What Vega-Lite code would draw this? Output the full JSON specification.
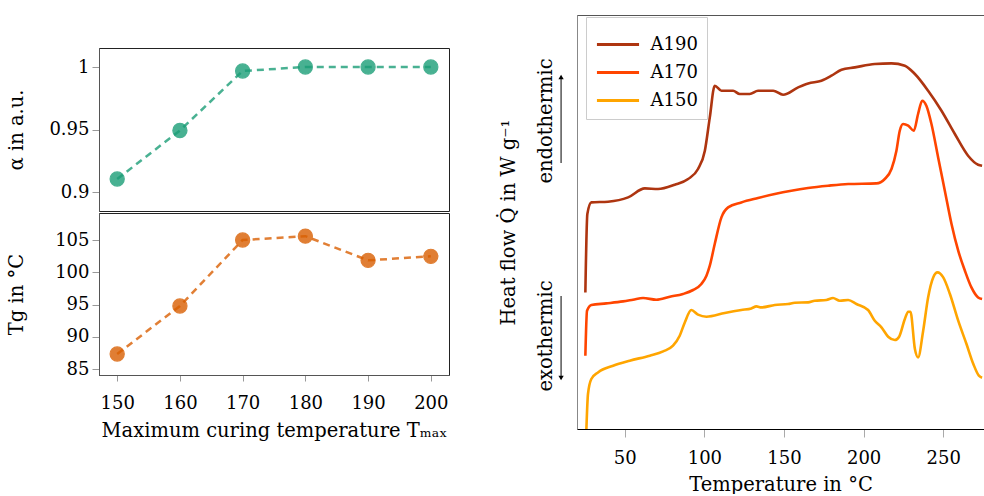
{
  "$schema": "https://vega.github.io/schema/vega-lite/v6.json",
  "padding": {"left": 5, "top": 14, "right": 0, "bottom": 0},
  "config": {
    "font": "DejaVu Serif",
    "view": {"stroke": "#222"},
    "axis": {"labelFont": "DejaVu Serif", "titleFont": "DejaVu Serif", "labelFontSize": 18, "titleFontSize": 19.5, "titleFontWeight": "normal", "labelColor": "#000", "titleColor": "#000", "grid": false, "tickColor": "#999", "domainColor": "#555"}
  },
  "datasets": {
    "cure": [
      {"Tmax": 150, "alpha": 0.9104, "Tg": 87.33},
      {"Tmax": 160, "alpha": 0.9492, "Tg": 94.77},
      {"Tmax": 170, "alpha": 0.9968, "Tg": 105.0},
      {"Tmax": 180, "alpha": 1.0, "Tg": 105.6},
      {"Tmax": 190, "alpha": 1.0, "Tg": 101.85},
      {"Tmax": 200, "alpha": 1.0, "Tg": 102.47}
    ],
    "dsc": [
      {"sample": "A190", "T": 25.25, "Q": 136.6}, {"sample": "A190", "T": 26.5, "Q": 215}, {"sample": "A190", "T": 29.0, "Q": 226.6}, {"sample": "A190", "T": 39.5, "Q": 227.3}, {"sample": "A190", "T": 52.1, "Q": 231.6}, {"sample": "A190", "T": 62.6, "Q": 240.6}, {"sample": "A190", "T": 70.9, "Q": 240}, {"sample": "A190", "T": 81.4, "Q": 244.3}, {"sample": "A190", "T": 89.8, "Q": 250}, {"sample": "A190", "T": 96.0, "Q": 260}, {"sample": "A190", "T": 100.3, "Q": 278.3}, {"sample": "A190", "T": 103.4, "Q": 311.6}, {"sample": "A190", "T": 106.5, "Q": 343.3}, {"sample": "A190", "T": 110.7, "Q": 338.3}, {"sample": "A190", "T": 118.0, "Q": 338.3}, {"sample": "A190", "T": 122.2, "Q": 335}, {"sample": "A190", "T": 128.5, "Q": 335}, {"sample": "A190", "T": 133.7, "Q": 338.3}, {"sample": "A190", "T": 143.2, "Q": 338.3}, {"sample": "A190", "T": 149.4, "Q": 334.3}, {"sample": "A190", "T": 158.9, "Q": 341.6}, {"sample": "A190", "T": 165.2, "Q": 345.6}, {"sample": "A190", "T": 173.5, "Q": 348.3}, {"sample": "A190", "T": 179.8, "Q": 353.3}, {"sample": "A190", "T": 186.1, "Q": 359.3}, {"sample": "A190", "T": 194.5, "Q": 361.6}, {"sample": "A190", "T": 207.0, "Q": 365}, {"sample": "A190", "T": 217.5, "Q": 365.6}, {"sample": "A190", "T": 225.9, "Q": 363.3}, {"sample": "A190", "T": 232.2, "Q": 355}, {"sample": "A190", "T": 240.5, "Q": 338.3}, {"sample": "A190", "T": 248.9, "Q": 318.3}, {"sample": "A190", "T": 257.3, "Q": 295}, {"sample": "A190", "T": 265.6, "Q": 273.3}, {"sample": "A190", "T": 271.9, "Q": 264.3}, {"sample": "A190", "T": 274.4, "Q": 263.3},
      {"sample": "A170", "T": 25.25, "Q": 73.3}, {"sample": "A170", "T": 26.3, "Q": 118.3}, {"sample": "A170", "T": 29.0, "Q": 124}, {"sample": "A170", "T": 38.4, "Q": 125.6}, {"sample": "A170", "T": 48.9, "Q": 127.6}, {"sample": "A170", "T": 55.2, "Q": 129.3}, {"sample": "A170", "T": 61.5, "Q": 131}, {"sample": "A170", "T": 69.8, "Q": 129.3}, {"sample": "A170", "T": 78.3, "Q": 132.3}, {"sample": "A170", "T": 86.6, "Q": 135}, {"sample": "A170", "T": 92.9, "Q": 139}, {"sample": "A170", "T": 98.1, "Q": 145}, {"sample": "A170", "T": 101.3, "Q": 153.3}, {"sample": "A170", "T": 103.4, "Q": 163.3}, {"sample": "A170", "T": 106.5, "Q": 185}, {"sample": "A170", "T": 110.7, "Q": 211.6}, {"sample": "A170", "T": 114.9, "Q": 221.6}, {"sample": "A170", "T": 123.2, "Q": 226.6}, {"sample": "A170", "T": 133.7, "Q": 231}, {"sample": "A170", "T": 144.2, "Q": 235}, {"sample": "A170", "T": 154.6, "Q": 238.3}, {"sample": "A170", "T": 165.1, "Q": 241}, {"sample": "A170", "T": 177.7, "Q": 243.3}, {"sample": "A170", "T": 190.3, "Q": 245}, {"sample": "A170", "T": 208.0, "Q": 245.6}, {"sample": "A170", "T": 213.3, "Q": 250}, {"sample": "A170", "T": 217.5, "Q": 260}, {"sample": "A170", "T": 220.6, "Q": 278.3}, {"sample": "A170", "T": 222.7, "Q": 298.3}, {"sample": "A170", "T": 224.8, "Q": 305}, {"sample": "A170", "T": 228.0, "Q": 303.3}, {"sample": "A170", "T": 231.5, "Q": 298.3}, {"sample": "A170", "T": 234.2, "Q": 315}, {"sample": "A170", "T": 236.8, "Q": 328.3}, {"sample": "A170", "T": 239.4, "Q": 323.3}, {"sample": "A170", "T": 242.6, "Q": 305}, {"sample": "A170", "T": 246.8, "Q": 271.6}, {"sample": "A170", "T": 251.0, "Q": 238.3}, {"sample": "A170", "T": 255.2, "Q": 205}, {"sample": "A170", "T": 259.4, "Q": 178.3}, {"sample": "A170", "T": 263.6, "Q": 158.3}, {"sample": "A170", "T": 267.7, "Q": 141.6}, {"sample": "A170", "T": 271.9, "Q": 131.6}, {"sample": "A170", "T": 274.4, "Q": 130},
      {"sample": "A150", "T": 25.9, "Q": 0}, {"sample": "A150", "T": 26.9, "Q": 35}, {"sample": "A150", "T": 29.0, "Q": 50}, {"sample": "A150", "T": 33.2, "Q": 56.6}, {"sample": "A150", "T": 42.7, "Q": 63.3}, {"sample": "A150", "T": 53.1, "Q": 68.3}, {"sample": "A150", "T": 65.7, "Q": 73.3}, {"sample": "A150", "T": 74.1, "Q": 77.6}, {"sample": "A150", "T": 80.3, "Q": 83.3}, {"sample": "A150", "T": 84.5, "Q": 93.3}, {"sample": "A150", "T": 87.7, "Q": 106.6}, {"sample": "A150", "T": 91.8, "Q": 119}, {"sample": "A150", "T": 96.0, "Q": 114.3}, {"sample": "A150", "T": 101.3, "Q": 112.3}, {"sample": "A150", "T": 112.8, "Q": 116}, {"sample": "A150", "T": 123.2, "Q": 119}, {"sample": "A150", "T": 129.5, "Q": 120.6}, {"sample": "A150", "T": 132.7, "Q": 122.6}, {"sample": "A150", "T": 135.8, "Q": 121.6}, {"sample": "A150", "T": 144.2, "Q": 124}, {"sample": "A150", "T": 152.6, "Q": 125}, {"sample": "A150", "T": 156.8, "Q": 126.3}, {"sample": "A150", "T": 165.1, "Q": 126.6}, {"sample": "A150", "T": 169.3, "Q": 128.3}, {"sample": "A150", "T": 176.6, "Q": 129}, {"sample": "A150", "T": 180.8, "Q": 131}, {"sample": "A150", "T": 185.0, "Q": 128.3}, {"sample": "A150", "T": 190.3, "Q": 129}, {"sample": "A150", "T": 195.5, "Q": 125}, {"sample": "A150", "T": 202.8, "Q": 119}, {"sample": "A150", "T": 207.0, "Q": 108.3}, {"sample": "A150", "T": 211.2, "Q": 101.6}, {"sample": "A150", "T": 215.4, "Q": 92.3}, {"sample": "A150", "T": 219.6, "Q": 89}, {"sample": "A150", "T": 222.3, "Q": 92.3}, {"sample": "A150", "T": 225.9, "Q": 110}, {"sample": "A150", "T": 228.0, "Q": 117.3}, {"sample": "A150", "T": 229.4, "Q": 117.3}, {"sample": "A150", "T": 232.2, "Q": 80}, {"sample": "A150", "T": 234.2, "Q": 71.6}, {"sample": "A150", "T": 237.4, "Q": 98.3}, {"sample": "A150", "T": 240.5, "Q": 131.6}, {"sample": "A150", "T": 243.7, "Q": 151.6}, {"sample": "A150", "T": 246.4, "Q": 156.6}, {"sample": "A150", "T": 250.0, "Q": 151.6}, {"sample": "A150", "T": 254.2, "Q": 135}, {"sample": "A150", "T": 259.4, "Q": 108.3}, {"sample": "A150", "T": 264.6, "Q": 85}, {"sample": "A150", "T": 268.9, "Q": 65}, {"sample": "A150", "T": 272.4, "Q": 53.3}, {"sample": "A150", "T": 274.4, "Q": 51.3}
    ]
  },
  "hconcat": [
    {
      "vconcat": [
        {
          "width": 350, "height": 32,
          "view": {"stroke": null},
          "data": {"values": []},
          "mark": "point"
        },
        {
          "width": 350, "height": 163,
          "data": {"name": "cure"},
          "encoding": {
            "x": {"field": "Tmax", "type": "quantitative", "scale": {"domain": [147.1, 202.9]}, "axis": null},
            "y": {"field": "alpha", "type": "quantitative", "scale": {"domain": [0.8848, 1.0152], "zero": false, "nice": false},
                  "axis": {"title": "α in a.u.", "values": [0.9, 0.95, 1], "format": "~g", "tickSize": 7, "labelPadding": 3, "minExtent": 55, "maxExtent": 55, "titlePadding": 18}}
          },
          "layer": [
            {"mark": {"type": "line", "strokeDash": [7, 5], "strokeWidth": 2.5, "color": "#1b9e77", "opacity": 0.8}},
            {"mark": {"type": "point", "filled": true, "size": 200, "color": "#1b9e77", "opacity": 0.8, "stroke": "#1b9e77", "strokeWidth": 1.2}}
          ]
        },
        {
          "width": 350, "height": 162,
          "data": {"name": "cure"},
          "encoding": {
            "x": {"field": "Tmax", "type": "quantitative", "scale": {"domain": [147.1, 202.9], "nice": false},
                  "axis": {"title": "Maximum curing temperature Tₘₐₓ", "values": [150, 160, 170, 180, 190, 200], "tickSize": 6, "labelPadding": 13, "titlePadding": 9}},
            "y": {"field": "Tg", "type": "quantitative", "scale": {"domain": [84.07, 109.19], "zero": false, "nice": false},
                  "axis": {"title": "Tg in °C", "values": [85, 90, 95, 100, 105], "tickSize": 7, "labelPadding": 3, "minExtent": 55, "maxExtent": 55, "titlePadding": 18}}
          },
          "layer": [
            {"mark": {"type": "line", "strokeDash": [7, 5], "strokeWidth": 2.5, "color": "#d95f02", "opacity": 0.8}},
            {"mark": {"type": "point", "filled": true, "size": 200, "color": "#d95f02", "opacity": 0.8, "stroke": "#d95f02", "strokeWidth": 1.2}}
          ]
        }
      ],
      "spacing": 0
    },
    {
      "width": 407, "height": 414,
      "view": {"stroke": "#555"},
      "layer": [
        {
          "data": {"name": "dsc"},
          "mark": {"type": "line", "strokeWidth": 2.6, "interpolate": "monotone"},
          "encoding": {
            "x": {"field": "T", "type": "quantitative", "scale": {"domain": [20, 275.6], "nice": false, "zero": false},
                  "axis": {"title": "Temperature in °C", "values": [50, 100, 150, 200, 250], "tickSize": 8, "tickColor": "#aaa", "labelPadding": 12, "domainColor": "#000", "titlePadding": 8}},
            "y": {"field": "Q", "type": "quantitative", "scale": {"domain": [0, 414], "nice": false, "zero": false},
                  "axis": {"title": "Heat flow Q̇ in W g⁻¹", "labels": false, "ticks": false, "domainColor": "#888", "titlePadding": 59}},
            "color": {"field": "sample", "type": "nominal",
                      "scale": {"domain": ["A190", "A170", "A150"], "range": ["#ae3510", "#ff4500", "#ffa500"]},
                      "legend": {"title": null, "orient": "none", "legendX": 9, "legendY": 2, "padding": 9, "strokeColor": "#ccc", "fillColor": "#fff", "symbolType": "M-1.27,0H1.27", "symbolSize": 1100, "symbolStrokeWidth": 3, "symbolOffset": 4.5, "labelFontSize": 18, "labelFont": "DejaVu Serif", "labelColor": "#000", "rowPadding": 0, "labelOffset": 14}}
          }
        },
        {
          "data": {"values": [{}]},
          "mark": {"type": "text", "angle": 270, "fontSize": 19.5, "font": "DejaVu Serif", "align": "center", "baseline": "middle", "color": "#000"},
          "encoding": {"x": {"datum": 0.5}, "y": {"datum": 308}, "text": {"value": "endothermic"}}
        },
        {
          "data": {"values": [{}]},
          "mark": {"type": "text", "angle": 270, "fontSize": 19.5, "font": "DejaVu Serif", "align": "center", "baseline": "middle", "color": "#000"},
          "encoding": {"x": {"datum": 0.5}, "y": {"datum": 93}, "text": {"value": "exothermic"}}
        },
        {
          "data": {"values": [{}]},
          "mark": {"type": "rule", "strokeWidth": 1, "color": "#000"},
          "encoding": {"x": {"datum": 10}, "y": {"datum": 266}, "y2": {"datum": 350}}
        },
        {
          "data": {"values": [{}]},
          "mark": {"type": "point", "shape": "triangle-up", "filled": true, "size": 28, "color": "#000", "opacity": 1},
          "encoding": {"x": {"datum": 10}, "y": {"datum": 352}}
        },
        {
          "data": {"values": [{}]},
          "mark": {"type": "rule", "strokeWidth": 1, "color": "#000"},
          "encoding": {"x": {"datum": 10}, "y": {"datum": 133}, "y2": {"datum": 53}}
        },
        {
          "data": {"values": [{}]},
          "mark": {"type": "point", "shape": "triangle-down", "filled": true, "size": 28, "color": "#000", "opacity": 1},
          "encoding": {"x": {"datum": 10}, "y": {"datum": 51}}
        }
      ]
    }
  ],
  "spacing": 47,
  "resolve": {"legend": {"color": "independent"}}
}
